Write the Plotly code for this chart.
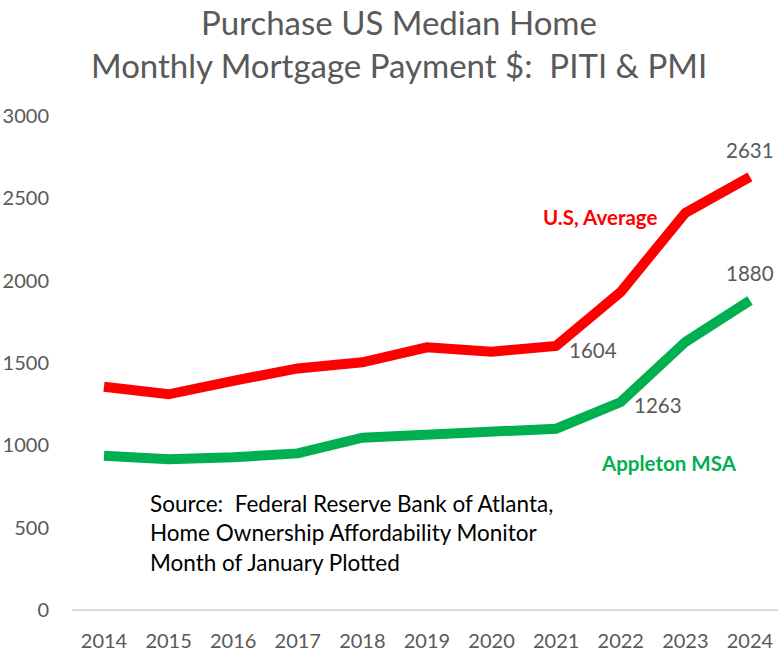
import plotly.graph_objects as go

years = [2014, 2015, 2016, 2017, 2018, 2019, 2020, 2021, 2022, 2023, 2024]
us_avg = [1356, 1310, 1392, 1467, 1504, 1595, 1569, 1604, 1932, 2412, 2631]
appleton = [937, 915, 927, 951, 1046, 1063, 1093, 1101, 1263, 1628, 1880]
y_ticks = [0, 500, 1000, 1500, 2000, 2500, 3000]

FONT = "Lato"
GRAY = "#595959"
W, H = 778, 654
L, R, TOP, BOT = 72, 778, 116, 610  # plot area in page pixels


def paper(px, py):
    return (px - L) / (R - L), (BOT - py) / (BOT - TOP)


fig = go.Figure()
fig.add_trace(go.Scatter(x=years, y=us_avg, mode="lines", name="U.S, Average",
                         line=dict(color="#FF0000", width=10), showlegend=False,
                         hoverinfo="skip"))
fig.add_trace(go.Scatter(x=years, y=appleton, mode="lines", name="Appleton MSA",
                         line=dict(color="#00B050", width=10), showlegend=False,
                         hoverinfo="skip"))

fig.update_layout(
    width=W, height=H,
    margin=dict(l=L, r=W - R, t=TOP, b=H - BOT, pad=0),
    paper_bgcolor="white", plot_bgcolor="white",
    font=dict(family=FONT, color=GRAY, size=20),
    xaxis=dict(range=[2013.505, 2024.434], tickvals=years, showgrid=False, zeroline=False,
               showline=False, ticks="", tickfont=dict(size=20, color=GRAY),
               ticklabelstandoff=17),
    yaxis=dict(range=[0, 3000], tickvals=y_ticks,
               showgrid=False, zeroline=True, zerolinecolor="#D9D9D9", zerolinewidth=1.5,
               showline=False, ticks="", tickfont=dict(size=20, color=GRAY),
               ticklabelstandoff=22),
)

# title lines
for text, py in [("Purchase US Median Home", 22), ("Monthly Mortgage Payment $:  PITI & PMI", 65)]:
    tx, ty = paper(399, py)
    fig.add_annotation(x=tx, y=ty, xref="paper", yref="paper",
                       text=text, showarrow=False, xanchor="center", yanchor="middle",
                       font=dict(family=FONT, size=33, color=GRAY))

# value labels
lab = dict(showarrow=False, xanchor="center", yanchor="middle")
fig.add_annotation(x=years[-1], y=us_avg[-1], text=str(us_avg[-1]), yshift=27,
                   font=dict(family=FONT, size=20.5, color=GRAY), **lab)
fig.add_annotation(x=years[-1], y=appleton[-1], text=str(appleton[-1]), yshift=27,
                   font=dict(family=FONT, size=20.5, color=GRAY), **lab)
fig.add_annotation(x=years[7], y=us_avg[7], text=str(us_avg[7]), xshift=37, yshift=-4,
                   font=dict(family=FONT, size=20.5, color=GRAY), **lab)
fig.add_annotation(x=years[8], y=appleton[8], text=str(appleton[8]), xshift=37, yshift=-3,
                   font=dict(family=FONT, size=20.5, color=GRAY), **lab)

# series labels
xs, ys = paper(600, 217)
fig.add_annotation(x=xs, y=ys, xref="paper", yref="paper", text="<b>U.S, Average</b>",
                   font=dict(family=FONT, size=20.5, color="#FF0000"), **lab)
xs, ys = paper(669, 463)
fig.add_annotation(x=xs, y=ys, xref="paper", yref="paper", text="<b>Appleton MSA</b>",
                   font=dict(family=FONT, size=20.5, color="#00B050"), **lab)

# source note
sx, sy = paper(148, 533)
fig.add_annotation(x=sx, y=sy, xref="paper", yref="paper", xanchor="left", yanchor="middle",
                   align="left", showarrow=False,
                   text="Source:  Federal Reserve Bank of Atlanta,<br>Home Ownership Affordability Monitor<br>Month of January Plotted",
                   font=dict(family=FONT, size=22.5, color="black"))

fig.write_html("out.html", config={"displayModeBar": False},
               post_script="document.body.style.margin='0';")
